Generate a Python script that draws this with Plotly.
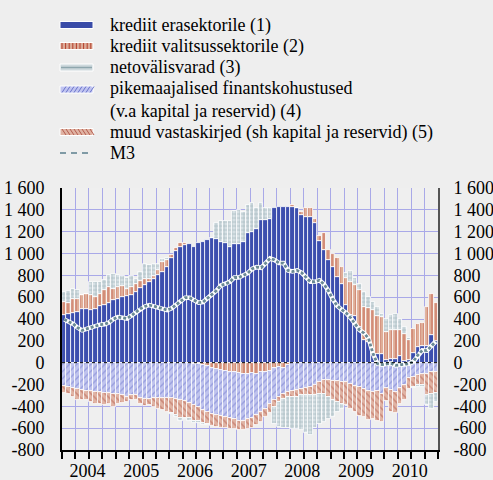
import plotly.graph_objects as go

years = ["2004", "2005", "2006", "2007", "2008", "2009", "2010"]
n_months = 84  # Jan 2004 .. Dec 2010

credit_private = [440, 443, 458, 465, 489, 495, 480, 495, 517, 532, 550, 572,
                  587, 602, 611, 624, 648, 685, 710, 740, 771, 805, 832, 880,
                  955, 1020, 1062, 1077, 1086, 1062, 1092, 1108, 1123, 1138, 1132, 1108,
                  1092, 1062, 1086, 1086, 1108, 1184, 1199, 1221, 1306, 1306, 1312, 1413,
                  1429, 1429, 1422, 1422, 1413, 1352, 1337, 1337, 1276, 1116, 1031, 939,
                  878, 786, 725, 526, 433, 424, 326, 205, 190, 83, 77, 83,
                  28, 37, 37, 58, 12, 20, 90, 145, 150, 150, 250, 200]

credit_gov = [116, 107, 123, 122, 129, 138, 138, 107, 116, 131, 144, 101,
              107, 101, 68, 70, 77, 61, 61, 30, 25, 40, 90, 60,
              31, 31, 31, 15, -5, -10, -15, -25, -30, -50, -60, -70,
              -80, -85, -90, -95, -100, -100, -95, -100, -90, -90, -80, -50,
              -40, -45, -20, 23, 0, 31, 77, 77, 40, 46, 153, 92,
              122, 174, 155, 254, 307, 286, 344, 305, 310, 397, 353, 337,
              253, 259, 259, 238, 254, 185, 222, 213, 214, 360, 383, 347]

net_foreign = [92, 104, 92, 76, 0, 0, 122, 138, 107, 97, 106, 137,
               106, 87, 101, 96, 45, 84, 129, 129, 109, 63, 30, 15,
               -10, -20, -25, -15, -20, -25, -15, -20, -10, 0, 144, 192,
               208, 238, 306, 312, 275, 260, 266, 192, 154, 107, 101, -150,
               -230, -270, -290, -300, -300, -320, -340, -360, -300, -270, -250, -210,
               -155, -90, -45, 40, 100, 70, 50, 140, 100, 80, 80, 30,
               120, 140, 150, 100, 60, 20, -10, -20, -20, -90, -130, -80]

long_term_liab = [-210, -220, -235, -245, -250, -255, -260, -265, -270, -275, -280, -285,
                  -290, -300, -310, -300, -300, -320, -335, -330, -325, -320, -320, -320,
                  -320, -330, -345, -350, -365, -380, -395, -405, -420, -420, -420, -420,
                  -420, -425, -430, -435, -430, -420, -415, -380, -360, -330, -300, -290,
                  -270, -245, -250, -260, -250, -240, -230, -220, -200, -180, -160, -160,
                  -165, -170, -175, -180, -195, -210, -225, -240, -255, -270, -260, -285,
                  -230, -250, -270, -230, -200, -140, -130, -110, -100, -100, -90, -90]

other_items = [-70, -65, -80, -100, -95, -90, -100, -110, -110, -115, -100, -120,
               -90, -70, -50, -45, -40, -60, -60, -60, -80, -100, -110, -130,
               -140, -150, -160, -155, -140, -140, -125, -120, -115, -110, -110, -110,
               -100, -95, -90, -90, -90, -90, -90, -90, -90, -80, -80, -70,
               -50, -40, -40, -50, -60, -60, -70, -80, -100, -110, -130, -150,
               -180, -190, -200, -210, -230, -245, -260, -260, -270, -250, -270, -260,
               -120, -200, -190, -150, -140, -100, -90, -90, -100, -200, -200, -190]

m3 = [395, 372, 355, 320, 296, 310, 325, 340, 348, 352, 368, 400,
      418, 412, 404, 430, 460, 495, 515, 527, 518, 505, 492, 482,
      498, 530, 570, 595, 595, 573, 550, 555, 588, 620, 660, 708,
      720, 740, 780, 780, 800, 820, 860, 875, 869, 915, 955, 940,
      912, 912, 845, 835, 845, 825, 780, 741, 741, 755, 720, 660,
      580, 520, 485, 455, 410, 355, 298, 270, 220, 80, -10, -18,
      -8, -5, -25, -18, -12, -10, 10, 70, 113, 110, 150, 195]

names = ["krediit erasektorile (1)",
         "krediit valitsussektorile (2)",
         "netovälisvarad (3)",
         "pikemaajalised finantskohustused<br>(v.a kapital ja reservid) (4)",
         "muud vastaskirjed (sh kapital ja reservid) (5)",
         "M3"]

y_ticks = [-800, -600, -400, -200, 0, 200, 400, 600, 800, 1000, 1200, 1400, 1600]
y_ticktext = ["-800", "-600", "-400", "-200", "0", "200", "400", "600", "800",
              "1 000", "1 200", "1 400", "1 600"]

x = list(range(n_months))
FONT = "Liberation Serif, Times New Roman, serif"
GRID = "#a9a9e8"
WHITE_LINE = dict(color="white", width=0.8)

# figure geometry (px)
W, H = 493, 480
ML, MR, MT, MB = 62, 55, 188, 30
PW, PH = W - ML - MR, H - MT - MB


def px_x(px):
    return (px - ML) / PW


def px_y(py):
    return (H - MB - py) / PH


fig = go.Figure()

fig.add_trace(go.Bar(x=x, y=credit_private, marker=dict(color="#3c4eae", line=WHITE_LINE),
                     name=names[0]))
fig.add_trace(go.Bar(x=x, y=credit_gov,
                     marker=dict(color="#dfae98", line=WHITE_LINE,
                                 pattern=dict(shape="|", fgcolor="#b33f2c", bgcolor="#dfae98",
                                              size=4, solidity=0.3)),
                     name=names[1]))
fig.add_trace(go.Bar(x=x, y=long_term_liab,
                     marker=dict(color="#bfc3ee", line=WHITE_LINE,
                                 pattern=dict(shape="/", fgcolor="#6d76cc", bgcolor="#bfc3ee",
                                              size=5, solidity=0.28)),
                     name=names[3]))
fig.add_trace(go.Bar(x=x, y=other_items,
                     marker=dict(color="#e0b3a3", line=WHITE_LINE,
                                 pattern=dict(shape="\\", fgcolor="#b55c4e", bgcolor="#e0b3a3",
                                              size=5, solidity=0.3)),
                     name=names[4]))
fig.add_trace(go.Bar(x=x, y=net_foreign,
                     marker=dict(color="#d6e0e4", line=WHITE_LINE,
                                 pattern=dict(shape="+", fgcolor="#7f99a3", bgcolor="#d6e0e4",
                                              size=4, solidity=0.35)),
                     name=names[2]))

# M3 line: white halo + dashed line (both on the overlay axis, above the bars)
fig.add_trace(go.Scatter(x=x, y=m3, mode="lines", line=dict(color="white", width=4.5),
                         hoverinfo="skip", yaxis="y2", name="M3 halo"))
fig.add_trace(go.Scatter(x=x, y=m3, mode="lines", yaxis="y2",
                         line=dict(color="#6a8a95", width=2.8, dash="3px,2px"),
                         name=names[5]))

# ---- manual legend (swatches as shapes, labels as text) ----
shapes = []
annotations = []
SX0, SX1 = 60, 93
row_y = [25, 46, 67.5, 89.5, 132, 153]
label_y = [25, 46, 67.5, 100, 132, 153]
swatch_fill = ["#3a4ca8", "#dcab98", "#cdd8dc", "#c0c4f0", "#dfb2a2"]


def rect(x0, x1, y0, y1, fill, line_col="white", lw=1):
    return dict(type="rect", xref="paper", yref="paper", layer="above",
                x0=px_x(x0), x1=px_x(x1), y0=px_y(y0), y1=px_y(y1),
                fillcolor=fill, line=dict(color=line_col, width=lw))


def seg(x0, y0, x1, y1, col, w=1, dash="solid"):
    return dict(type="line", xref="paper", yref="paper", layer="above",
                x0=px_x(x0), x1=px_x(x1), y0=px_y(y0), y1=px_y(y1),
                line=dict(color=col, width=w, dash=dash))


for i in range(5):
    cy = row_y[i]
    shapes.append(rect(SX0, SX1, cy - 3.5, cy + 3.5, swatch_fill[i]))
# stripes for (2)
for k in range(9):
    xx = SX0 + 2 + k * 3.6
    shapes.append(seg(xx, row_y[1] - 3, xx, row_y[1] + 3, "#b33f2c", 1))
# middle line for (3)
shapes.append(seg(SX0 + 1, row_y[2], SX1 - 1, row_y[2], "#8ea6ad", 1.5))
# hatch for (4) and (5)
for k in range(8):
    xx = SX0 + 2 + k * 4
    shapes.append(seg(xx, row_y[3] + 3, xx + 4, row_y[3] - 3, "#6d76cc", 1))
    shapes.append(seg(xx, row_y[4] - 3, xx + 4, row_y[4] + 3, "#b55c4e", 1))
# M3 dashed
shapes.append(seg(SX0, row_y[5], SX1, row_y[5], "#7f9aa5", 2.2, "6px,5px"))

for nm, ly in zip(names, label_y):
    annotations.append(dict(text=nm, xref="paper", yref="paper", x=px_x(108), y=px_y(ly),
                            xanchor="left", yanchor="middle", showarrow=False, align="left",
                            font=dict(family=FONT, size=18, color="black")))

# zero line
shapes.append(dict(type="line", xref="paper", yref="y", x0=0, x1=1, y0=0, y1=0,
                   line=dict(color="black", width=1, dash="dot"), layer="above"))

quarter_bounds = [q * 3 - 0.5 for q in range(29)]
year_label_pos = [12 * k + 5.2 for k in range(len(years))]

axis_font = dict(family=FONT, size=18, color="black")

fig.update_layout(
    width=W, height=H,
    paper_bgcolor="#eeeeee", plot_bgcolor="#efefef",
    margin=dict(l=ML, r=MR, t=MT, b=MB, autoexpand=False),
    barmode="relative", bargap=0,
    font=dict(family=FONT, size=18, color="black"),
    showlegend=False,
    xaxis=dict(range=[-0.5, 83.5], tickmode="array", tickvals=year_label_pos, ticktext=years,
               ticks="", showgrid=False, zeroline=False, showline=True, automargin=False,
               linecolor="black", linewidth=2, tickfont=axis_font, ticklabelstandoff=3,
               minor=dict(tickmode="array", tickvals=quarter_bounds, ticks="outside",
                          ticklen=7, tickwidth=2, tickcolor="black",
                          showgrid=True, gridcolor=GRID, gridwidth=1.3)),
    yaxis=dict(range=[-800, 1600], tickmode="array", tickvals=y_ticks, ticktext=y_ticktext,
               showgrid=True, gridcolor=GRID, gridwidth=1.3, zeroline=False, automargin=False,
               showline=True, linecolor="black", linewidth=2, ticks="",
               ticklabelstandoff=12, tickfont=axis_font),
    yaxis2=dict(range=[-800, 1600], overlaying="y", side="right", tickmode="array",
                tickvals=y_ticks, ticktext=y_ticktext, showgrid=False, zeroline=False,
                automargin=False, showline=True, linecolor="#555555", linewidth=2,
                ticks="", ticklabelstandoff=10, tickfont=axis_font),
    shapes=shapes,
    annotations=annotations,
)

fig.write_html("out.html", config={"displayModeBar": False},
               post_script="document.body.style.margin='0px';")
